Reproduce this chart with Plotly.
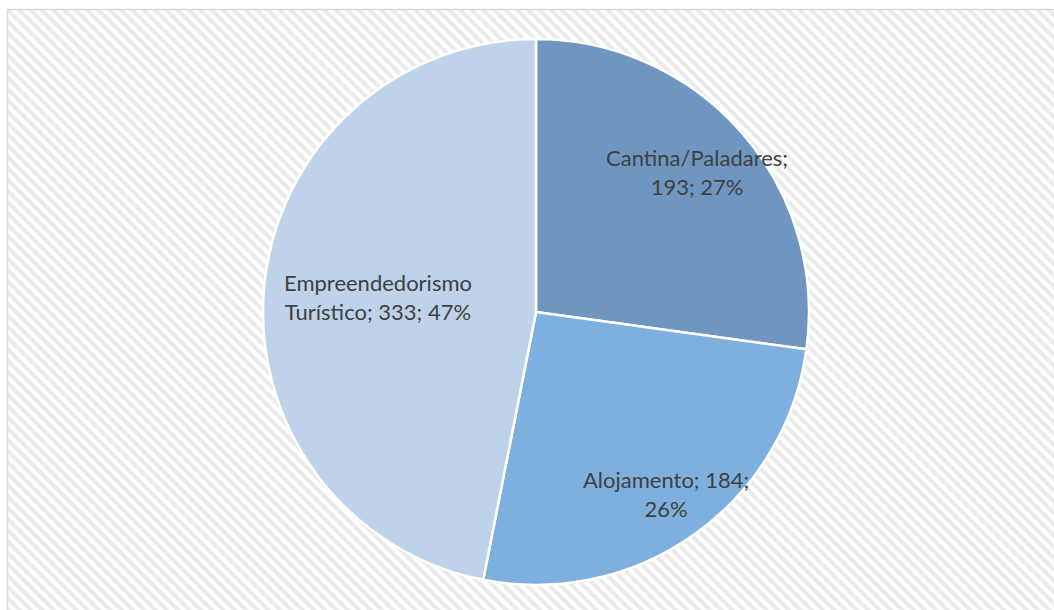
import math
import plotly.graph_objects as go

categories = ["Cantina/Paladares", "Alojamento", "Empreendedorismo Turístico"]
values = [193, 184, 333]
colors = ["#6f96c0", "#7db0de", "#bed2ea"]

W, H = 1054, 610
total = sum(values)
pcts = [round(v / total * 100) for v in values]

# line-break layout of each data label as in the reference
texts = [
    f"{categories[0]};<br>{values[0]}; {pcts[0]}%",
    f"{categories[1]}; {values[1]};<br>{pcts[1]}%",
    "Empreendedorismo<br>" + f"Turístico; {values[2]}; {pcts[2]}%",
]
label_radius = [0.78, 0.82, 0.58]   # fraction of radius where each label sits

fig = go.Figure()

# hatched chart-area background
fig.add_trace(go.Bar(
    x=[0.5], y=[1], width=[1],
    marker=dict(color="white",
                pattern=dict(shape="\\", fgcolor="#d6d6d6", bgcolor="white",
                             size=8, solidity=0.5),
                line=dict(width=0)),
    hoverinfo="skip", showlegend=False,
))

cx, cy, r = 536, 312, 273
fig.add_trace(go.Pie(
    labels=categories, values=values,
    textinfo="none",
    sort=False, direction="clockwise", rotation=0,
    marker=dict(colors=colors, line=dict(color="white", width=2.5)),
    domain=dict(x=[(cx - r) / W, (cx + r) / W], y=[1 - (cy + r) / H, 1 - (cy - r) / H]),
    showlegend=False, hoverinfo="label+value+percent",
))

# data labels placed along each slice bisector
annotations = []
cum = 0
for v, t, f in zip(values, texts, label_radius):
    theta = 2 * math.pi * (cum + v / 2) / total
    cum += v
    px = cx + f * r * math.sin(theta)
    py = cy - f * r * math.cos(theta)
    annotations.append(dict(
        x=px / W, y=1 - py / H, xref="paper", yref="paper",
        text=t, showarrow=False, align="center",
        xanchor="center", yanchor="middle",
        font=dict(family="Lato", size=22, color="#404040"),
    ))

fig.update_layout(
    width=W, height=H,
    margin=dict(l=0, r=0, t=0, b=0),
    paper_bgcolor="white", plot_bgcolor="rgba(0,0,0,0)",
    xaxis=dict(domain=[8 / W, 1], range=[0, 1], visible=False, fixedrange=True),
    yaxis=dict(domain=[0, 1 - 10 / H], range=[0, 1], visible=False, fixedrange=True),
    bargap=0,
    annotations=annotations,
    shapes=[
        dict(type="line", xref="paper", yref="paper", x0=7.5 / W, x1=7.5 / W,
             y0=0, y1=1 - 9 / H, line=dict(color="#d9d9d9", width=1.5)),
        dict(type="line", xref="paper", yref="paper", x0=7 / W, x1=1,
             y0=1 - 9.5 / H, y1=1 - 9.5 / H, line=dict(color="#d9d9d9", width=1.5)),
    ],
)

fig.write_html("out.html", config={"displayModeBar": False},
               post_script="document.body.style.margin='0';")
